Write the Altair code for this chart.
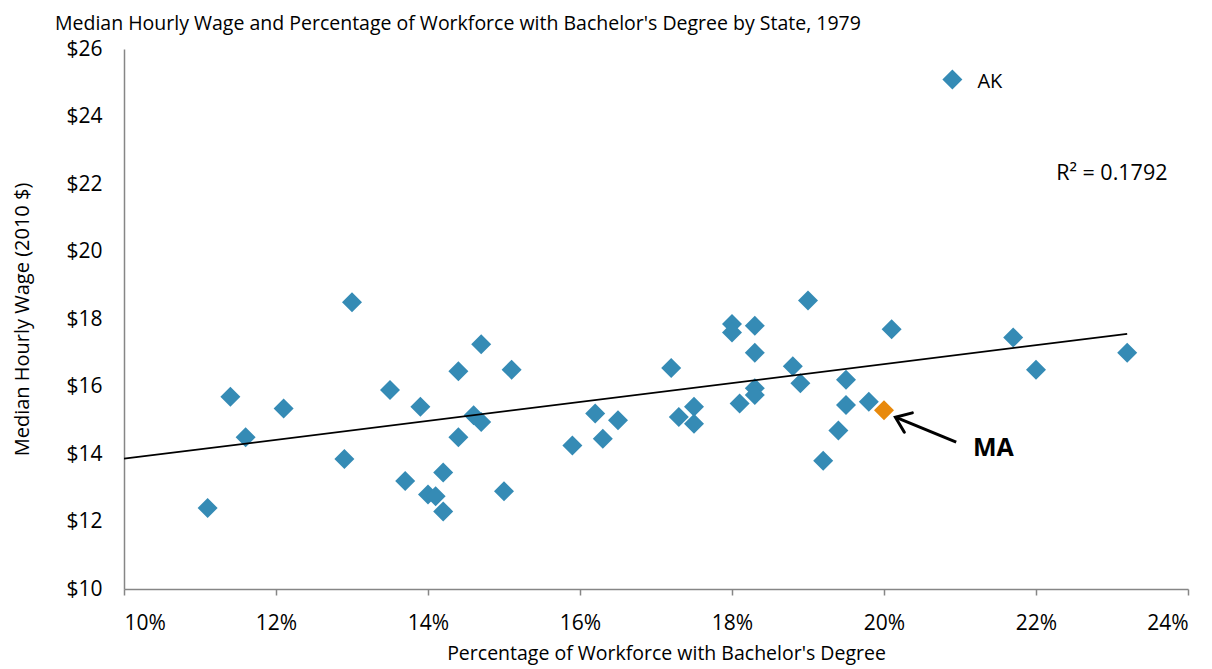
import altair as alt
import pandas as pd

# ---- data ----
pct_degree = [13.0, 14.7, 14.4, 15.1, 11.4, 12.1, 13.5, 13.9, 14.6, 14.7,
              11.6, 14.4, 12.9, 14.2, 13.7, 14.0, 14.1, 14.2, 15.0, 11.1,
              19.0, 18.0, 18.0, 18.3, 20.1, 18.3, 17.2, 18.8, 18.9, 19.5,
              18.3, 18.3, 18.1, 19.5, 19.8, 17.5, 17.3, 17.5, 16.2, 16.5,
              16.3, 15.9, 19.4, 19.2, 21.7, 22.0, 23.2, 20.9, 20.0]
median_wage = [18.5, 17.25, 16.45, 16.5, 15.7, 15.35, 15.9, 15.4, 15.15, 14.95,
               14.5, 14.5, 13.85, 13.45, 13.2, 12.8, 12.75, 12.3, 12.9, 12.4,
               18.55, 17.85, 17.6, 17.8, 17.7, 17.0, 16.55, 16.6, 16.1, 16.2,
               15.95, 15.75, 15.5, 15.45, 15.55, 15.4, 15.1, 14.9, 15.2, 15.0,
               14.45, 14.25, 14.7, 13.8, 17.45, 16.5, 17.0, 25.1, 15.3]
state_group = ["other"] * 47 + ["AK", "MA"]

trend_x = [10.0, 23.2]
trend_y = [13.86, 17.56]

x_ticks = [10, 12, 14, 16, 18, 20, 22, 24]
y_ticks = [10, 12, 14, 16, 18, 20, 22, 24, 26]

r2_label = ["R\u00b2 = 0.1792"]
r2_x = [23.73]
r2_y = [22.31]

arrow_tail_x = [20.95]
arrow_tail_y = [14.35]
arrow_tip_x = [20.15]
arrow_tip_y = [15.09]
ma_label_x = [21.17]
ma_label_y = [14.19]

BLUE = "#358BB5"
ORANGE = "#E8890C"
FONT = "Open Sans"

pts = pd.DataFrame({"x": pct_degree, "y": median_wage, "g": state_group})
trend = pd.DataFrame({"x": trend_x, "y": trend_y})
r2 = pd.DataFrame({"x": r2_x, "y": r2_y, "t": r2_label})
arrow = pd.DataFrame({"x": arrow_tail_x, "y": arrow_tail_y,
                      "x2": arrow_tip_x, "y2": arrow_tip_y})
tip = pd.DataFrame({"x": arrow_tip_x, "y": arrow_tip_y})
ma_lab = pd.DataFrame({"x": ma_label_x, "y": ma_label_y, "t": ["MA"]})

xscale = alt.Scale(domain=[10, 24], nice=False, zero=False)
yscale = alt.Scale(domain=[10, 26], nice=False, zero=False)

x_enc = alt.X("x:Q", scale=xscale, axis=alt.Axis(
    values=x_ticks, labelExpr="datum.value + '%'",
    title="Percentage of Workforce with Bachelor's Degree",
    grid=False, ticks=True, tickSize=6, tickColor="#868686", tickWidth=1.5,
    domainColor="#868686", domainWidth=1.5,
    labelFont=FONT, labelFontSize=21, labelColor="black", labelPadding=17,
    titleFont=FONT, titleFontSize=19.5, titleFontWeight="normal", titleColor="black",
    titlePadding=11, titleX=542))
y_enc = alt.Y("y:Q", scale=yscale, axis=alt.Axis(
    values=y_ticks, labelExpr="'$' + datum.value",
    title="Median Hourly Wage (2010 $)",
    grid=False, ticks=False, domainColor="#868686", domainWidth=1.5,
    labelFont=FONT, labelFontSize=21, labelColor="black", labelPadding=22,
    titleFont=FONT, titleFontSize=20, titleFontWeight="normal", titleColor="black",
    titlePadding=33))

points = alt.Chart(pts).mark_point(shape="diamond", filled=True, size=400, opacity=1).encode(
    x=x_enc, y=y_enc,
    color=alt.Color("g:N", scale=alt.Scale(domain=["other", "AK", "MA"],
                                            range=[BLUE, BLUE, ORANGE]), legend=None))

ak_text = alt.Chart(pts).transform_filter("datum.g == 'AK'").mark_text(
    align="left", baseline="middle", dx=25, dy=3, font=FONT, fontSize=20, color="black").encode(
    x="x:Q", y="y:Q", text="g:N")

trend_line = alt.Chart(trend).mark_line(color="black", strokeWidth=1.8).encode(
    x="x:Q", y="y:Q")

r2_text = alt.Chart(r2).mark_text(align="right", baseline="middle", font=FONT,
                                  fontSize=21.5, color="black").encode(
    x="x:Q", y="y:Q", text="t:N")

arrow_line = alt.Chart(arrow).mark_rule(color="black", strokeWidth=3).encode(
    x="x:Q", y="y:Q", x2="x2:Q", y2="y2:Q")

arrow_head = alt.Chart(tip).mark_point(
    shape="M -1 -0.75 L 0 0 L -1 0.75", filled=False, size=784, angle=202.4,
    stroke="black", strokeWidth=3, opacity=1, strokeCap="round", strokeJoin="miter").encode(
    x="x:Q", y="y:Q")

ma_text = alt.Chart(ma_lab).mark_text(align="left", baseline="middle", font=FONT,
                                      fontSize=25, fontWeight="bold", color="black").encode(
    x="x:Q", y="y:Q", text="t:N")

chart = alt.layer(points, trend_line, ak_text, r2_text, arrow_line, arrow_head, ma_text).properties(
    width=1064, height=540,
    title=alt.TitleParams(
        "Median Hourly Wage and Percentage of Workforce with Bachelor's Degree by State, 1979",
        anchor="start", frame="group", font=FONT, fontSize=19.5, fontWeight="normal",
        color="black", dx=-69, offset=4),
    autosize=alt.AutoSizeParams(type="none"),
    padding={"left": 116, "top": 41, "right": 10, "bottom": 76},
).configure_view(stroke=None)

chart.save("out.html", embed_options={"renderer": "svg", "actions": False})
